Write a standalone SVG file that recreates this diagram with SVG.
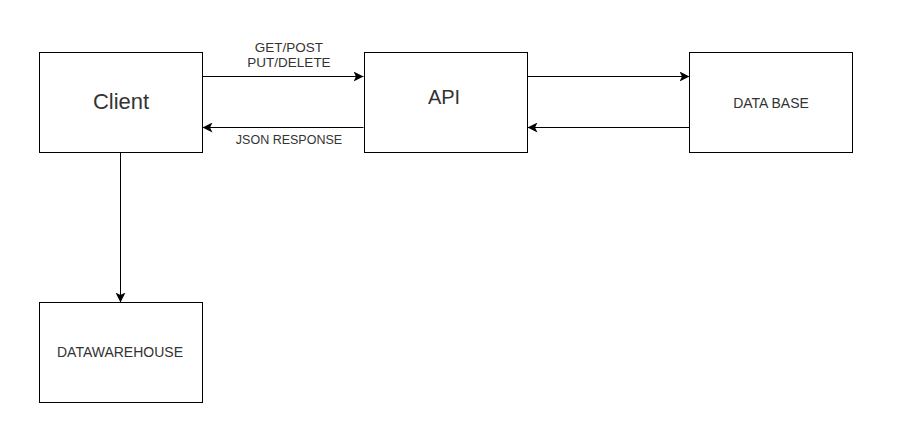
<svg xmlns="http://www.w3.org/2000/svg" width="900" height="446" viewBox="0 0 900 446">
<style>
.box{fill:#fff;stroke:#000;stroke-width:1}
.lbl{font-family:"Liberation Sans",Arial,sans-serif;fill:#333;text-anchor:middle}
.edge{stroke:#000;stroke-width:1;fill:none}
.el{font-family:"Liberation Sans",Arial,sans-serif;fill:#333;text-anchor:middle}
</style>
<defs>
<marker id="arr" viewBox="0 0 10 10" refX="10" refY="5" markerWidth="10" markerHeight="10" markerUnits="userSpaceOnUse" orient="auto">
<path d="M0,0 L10,5 L0,10 L2.5,5 Z" fill="#000"/>
</marker>
</defs>
<rect width="900" height="446" fill="#fff"/>
<g id="connectors">
<path class="edge" d="M202.5,76.5 L363.5,76.5" marker-end="url(#arr)"/>
<path class="edge" d="M363.5,127.5 L202.5,127.5" marker-end="url(#arr)"/>
<path class="edge" d="M527.5,76.5 L689.5,76.5" marker-end="url(#arr)"/>
<path class="edge" d="M689.5,127.5 L527.5,127.5" marker-end="url(#arr)"/>
<path class="edge" d="M120.5,152.5 L120.5,302.5" marker-end="url(#arr)"/>
<text class="el" x="289" y="52" font-size="13.5">GET/POST</text>
<text class="el" x="289" y="67" font-size="13.5">PUT/DELETE</text>
<text class="el" x="289" y="144" font-size="12.5">JSON RESPONSE</text>
</g>
<g id="client">
<rect class="box" x="39.5" y="52.5" width="163" height="100"/>
<text class="lbl" x="121" y="109" font-size="22">Client</text>
</g>
<g id="api">
<rect class="box" x="364.5" y="52.5" width="163" height="100"/>
<text class="lbl" x="444" y="104" font-size="20">API</text>
</g>
<g id="database">
<rect class="box" x="689.5" y="52.5" width="163" height="100"/>
<text class="lbl" x="771" y="108" font-size="14">DATA BASE</text>
</g>
<g id="datawarehouse">
<rect class="box" x="39.5" y="302.5" width="163" height="100"/>
<text class="lbl" x="120" y="357" font-size="14">DATAWAREHOUSE</text>
</g>
</svg>
